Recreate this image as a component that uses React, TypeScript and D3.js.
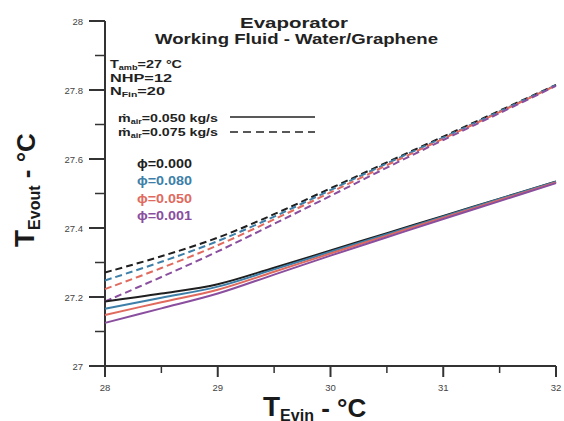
import React from "react";
import * as d3 from "d3";

const xValues = [28, 28.5, 29, 29.5, 30, 30.5, 31, 31.5, 32];
const phiLabels = ["\u03d5=0.000", "\u03d5=0.080", "\u03d5=0.050", "\u03d5=0.001"];
const phiColors = ["#1f1f1f", "#3d7fa8", "#e06a5e", "#8a4e9e"];

// m_air = 0.050 kg/s (solid)
const solidPhi000 = [27.187, 27.21, 27.237, 27.285, 27.335, 27.385, 27.435, 27.485, 27.535];
const solidPhi080 = [27.166, 27.198, 27.23, 27.28, 27.331, 27.382, 27.433, 27.484, 27.534];
const solidPhi050 = [27.148, 27.185, 27.221, 27.273, 27.326, 27.378, 27.43, 27.481, 27.532];
const solidPhi001 = [27.125, 27.167, 27.21, 27.265, 27.32, 27.373, 27.426, 27.478, 27.53];

// m_air = 0.075 kg/s (dashed)
const dashPhi000 = [27.271, 27.318, 27.372, 27.44, 27.515, 27.59, 27.665, 27.74, 27.815];
const dashPhi080 = [27.248, 27.302, 27.362, 27.433, 27.51, 27.587, 27.662, 27.738, 27.814];
const dashPhi050 = [27.223, 27.284, 27.35, 27.425, 27.503, 27.582, 27.659, 27.736, 27.813];
const dashPhi001 = [27.187, 27.258, 27.332, 27.412, 27.493, 27.575, 27.655, 27.733, 27.812];

const xTicks = [28, 29, 30, 31, 32];
const xMinorTicks = [28.5, 29.5, 30.5, 31.5];
const yTicks = [27, 27.2, 27.4, 27.6, 27.8, 28];
const yMinorTicks = [27.1, 27.3, 27.5, 27.7, 27.9];

const solidSeries = [solidPhi000, solidPhi080, solidPhi050, solidPhi001];
const dashSeries = [dashPhi000, dashPhi080, dashPhi050, dashPhi001];

const FONT = "'Liberation Sans', Arial, Helvetica, sans-serif";

export default function App() {
  const W = 564;
  const H = 421;
  const x = d3.scaleLinear().domain([28, 32]).range([105, 556]);
  const y = d3.scaleLinear().domain([27, 28]).range([366, 21]);

  const line = d3
    .line<number>()
    .x((_, i) => x(xValues[i]))
    .y((d) => y(d))
    .curve(d3.curveCatmullRom.alpha(0.5));

  const axisColor = "#333";

  return (
    <svg
      width={W}
      height={H}
      style={{ position: "absolute", left: 0, top: 0, background: "#fff" }}
      fontFamily={FONT}
    >
      {/* axes */}
      <line x1={x(28)} x2={x(28)} y1={y(28)} y2={y(27) + 11} stroke={axisColor} strokeWidth={2} />
      <line x1={x(28) - 15} x2={x(32)} y1={y(27)} y2={y(27)} stroke={axisColor} strokeWidth={2} />
      {yTicks.map((t) => (
        <g key={"yt" + t}>
          <line x1={x(28) - 16} x2={x(28)} y1={y(t)} y2={y(t)} stroke={axisColor} strokeWidth={2} />
          <text x={x(28) - 22} y={y(t) + 3.5} fontSize={9.5} textAnchor="end" fill="#444">
            {d3.format("")(t)}
          </text>
        </g>
      ))}
      {yMinorTicks.map((t) => (
        <line key={"ym" + t} x1={x(28) - 10} x2={x(28)} y1={y(t)} y2={y(t)} stroke={axisColor} strokeWidth={1.5} />
      ))}
      {xTicks.map((t) => (
        <g key={"xt" + t}>
          <line x1={x(t)} x2={x(t)} y1={y(27)} y2={y(27) + 11} stroke={axisColor} strokeWidth={2} />
          <text x={x(t)} y={y(27) + 25} fontSize={9.5} textAnchor="middle" fill="#444">
            {t}
          </text>
        </g>
      ))}
      {xMinorTicks.map((t) => (
        <line key={"xm" + t} x1={x(t)} x2={x(t)} y1={y(27)} y2={y(27) + 7} stroke={axisColor} strokeWidth={1.5} />
      ))}

      {/* data lines */}
      {dashSeries.map((s, i) => (
        <path key={"d" + i} d={line(s) || ""} fill="none" stroke={phiColors[i]} strokeWidth={2} strokeDasharray="7 4" />
      ))}
      {solidSeries.map((s, i) => (
        <path key={"s" + i} d={line(s) || ""} fill="none" stroke={phiColors[i]} strokeWidth={2} />
      ))}

      {/* title */}
      <text x={240} y={28} fontSize={15} fontWeight="bold" fill="#222" textLength={108} lengthAdjust="spacingAndGlyphs">
        Evaporator
      </text>
      <text x={155} y={44} fontSize={15} fontWeight="bold" fill="#222" textLength={283} lengthAdjust="spacingAndGlyphs">
        Working Fluid - Water/Graphene
      </text>

      {/* annotations */}
      <text x={110} y={68} fontSize={11} fontWeight="bold" fill="#222" textLength={72} lengthAdjust="spacingAndGlyphs">
        <tspan>T</tspan>
        <tspan fontSize={7} dy={2}>amb</tspan>
        <tspan dy={-2}>=27 °C</tspan>
      </text>
      <text x={110} y={82} fontSize={11} fontWeight="bold" fill="#222" textLength={62} lengthAdjust="spacingAndGlyphs">
        NHP=12
      </text>
      <text x={110} y={95} fontSize={11} fontWeight="bold" fill="#222" textLength={55} lengthAdjust="spacingAndGlyphs">
        <tspan>N</tspan>
        <tspan fontSize={7} dy={2}>Fin</tspan>
        <tspan dy={-2}>=20</tspan>
      </text>

      <text x={118} y={122} fontSize={11} fontWeight="bold" fill="#222" textLength={100} lengthAdjust="spacingAndGlyphs">
        <tspan>{"\u1e41"}</tspan>
        <tspan fontSize={7} dy={2}>air</tspan>
        <tspan dy={-2}>=0.050 kg/s</tspan>
      </text>
      <line x1={230} x2={315} y1={117} y2={117} stroke="#222" strokeWidth={1.6} />
      <text x={118} y={136} fontSize={11} fontWeight="bold" fill="#222" textLength={100} lengthAdjust="spacingAndGlyphs">
        <tspan>{"\u1e41"}</tspan>
        <tspan fontSize={7} dy={2}>air</tspan>
        <tspan dy={-2}>=0.075 kg/s</tspan>
      </text>
      <line x1={230} x2={315} y1={132} y2={132} stroke="#222" strokeWidth={1.6} strokeDasharray="8 5" />

      {phiLabels.map((lab, i) => (
        <text
          key={lab}
          x={137}
          y={168 + i * 17.4}
          fontSize={12}
          fontWeight="bold"
          fill={phiColors[i]}
          textLength={55}
          lengthAdjust="spacingAndGlyphs"
        >
          {lab}
        </text>
      ))}

      {/* axis titles */}
      <text x={263} y={416} fontWeight="bold" fill="#1a1a1a" fontSize={28}>
        <tspan>T</tspan>
        <tspan fontSize={16} dy={5}>Evin</tspan>
        <tspan fontSize={26} dy={-4}>{" - °C"}</tspan>
      </text>
      <text transform="translate(34,247) rotate(-90)" fontWeight="bold" fill="#1a1a1a" fontSize={28}>
        <tspan>T</tspan>
        <tspan fontSize={16} dy={6}>Evout</tspan>
        <tspan fontSize={26} dy={-5}>{" - °C"}</tspan>
      </text>
    </svg>
  );
}
